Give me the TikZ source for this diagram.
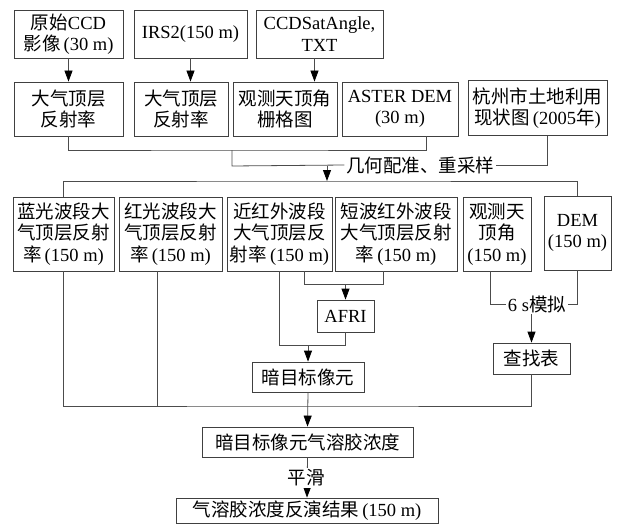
\documentclass[tikz,border=0pt]{standalone}
\usepackage{fontspec}
\setmainfont{Liberation Serif}
\newfontfamily\zhfont{Noto Sans CJK SC}
\newcommand\zh[1]{{\zhfont #1}}
\usetikzlibrary{arrows.meta}
\newcommand\mybox[6]{\node[box,minimum width=#4pt,minimum height=#5pt] (#1) at (#2,#3) {#6};}
\begin{document}
\begin{tikzpicture}[x=1pt,y=-1pt,
  box/.style={draw=black!75,line width=0.8pt,fill=white,inner sep=1pt,align=center,
    font=\fontsize{18.5}{21.5}\selectfont},
  ln/.style={draw=black!70,line width=0.8pt},
  arr/.style={ln,-{Triangle[width=8pt,length=11pt,color=black]}},
  lbl/.style={fill=white,inner sep=1.5pt,font=\fontsize{18.5}{21.5}\selectfont}]
\useasboundingbox (0,0) rectangle (620,524);
% row 1
\mybox{A}{68.5}{34}{109}{48}{\zh{原始}CCD\\\zh{影像}\,(30 m)}
\mybox{B}{190.5}{34}{113}{48}{IRS2(150 m)}
\mybox{C}{319.5}{34}{127}{48}{CCDSatAngle,\\TXT}
% row 2
\mybox{A2}{68.5}{109}{109}{54}{\zh{大气顶层}\\\zh{反射率}}
\mybox{B2}{181}{109}{94}{54}{\zh{大气顶层}\\\zh{反射率}}
\mybox{C2}{285}{109}{104}{54}{\zh{观测天顶角}\\\zh{栅格图}}
\mybox{D2}{400}{109}{116}{54}{ASTER DEM\\(30 m)}
\mybox{E2}{537.5}{108}{139}{55}{\zh{杭州市土地利用}\\\zh{现状图}\,(2005\zh{年})}
\draw[arr] (A.south) -- (A.south |- A2.north);
\draw[arr] (B.south) -- (B.south |- B2.north);
\draw[arr] ([xshift=-5pt]C.south) -- ([xshift=-5pt]C.south |- C2.north);
% geometric correction
\coordinate (h1) at (232,150);
\coordinate (h2) at (232,166);
\coordinate (h3) at (327,166);
\coordinate (h4) at (327,181);
\coordinate (D2s) at ([xshift=26pt]D2.south);
\coordinate (E2s) at ([xshift=10pt]E2.south);
\node[lbl] (geo) at (420,165) {\zh{几何配准、重采样}};
\draw[ln] (A2.south) |- (h1) -| (D2s);
\draw[ln] (h1) -- (h2) -- (geo.west);
\draw[ln] (E2s) |- (geo.east);
\draw[arr] (h3) -- (h4);
% row 3
\mybox{blue}{63.5}{234}{101}{74}{\zh{蓝光波段大}\\\zh{气顶层反射}\\\zh{率}\,(150 m)}
\mybox{red}{170.5}{234}{103}{74}{\zh{红光波段大}\\\zh{气顶层反射}\\\zh{率}\,(150 m)}
\mybox{nir}{279.5}{234}{105}{74}{\zh{近红外波段}\\\zh{大气顶层反}\\\zh{射率}\,(150 m)}
\mybox{swir}{396}{234}{122}{74}{\zh{短波红外波段}\\\zh{大气顶层反射}\\\zh{率}\,(150 m)}
\mybox{obs}{497}{234}{68}{74}{\zh{观测天}\\\zh{顶角}\\(150 m)}
\mybox{dem}{577.5}{233}{67}{74}{DEM\\(150 m)}
\draw[ln] (blue.north) |- (h4) -| (dem.north);
% AFRI
\mybox{afri}{345.5}{316}{57}{32}{AFRI}
\coordinate (nirA) at ([xshift=24.5pt]nir.south);
\coordinate (swirA) at ([xshift=-13pt]swir.south);
\coordinate (h6) at (304,284);
\draw[ln] (nirA) |- (h6) -| (swirA);
\draw[arr] (afri.north |- h6) -- (afri.north);
% dark pixel
\mybox{dark}{308}{377}{112}{30}{\zh{暗目标像元}}
\coordinate (h7) at (308,345);
\draw[ln] (nir.south) |- (h7);
\draw[ln] (afri.south) |- (h7);
\draw[arr] (h7) -- (dark.north);
% 6s
\node[lbl] (six) at (537,304) {6 s\zh{模拟}};
\coordinate (obsA) at ([xshift=-7pt]obs.south);
\draw[ln] (obsA) |- (six.west);
\draw[ln] (dem.south) |- (six.east);
\mybox{lut}{531.5}{358.5}{77}{31}{\zh{查找表}}
\draw[arr] (lut.north |- six.south) -- (lut.north);
% collect
\mybox{aod}{307.5}{442}{211}{30}{\zh{暗目标像元气溶胶浓度}}
\coordinate (h5) at (308,406);
\coordinate (redA) at ([xshift=-13.5pt]red.south);
\draw[ln] (blue.south) |- (h5) -| (lut.south);
\draw[ln] (redA) -- (redA |- h5);
\draw[arr] (dark.south) -- (aod.north);
% final
\mybox{fin}{307}{510.5}{262}{25}{\zh{气溶胶浓度反演结果}\,(150 m)}
\draw[arr] (aod.south) -- (fin.north);
\node[lbl] (smooth) at (306,478) {\zh{平滑}};
\end{tikzpicture}
\end{document}
